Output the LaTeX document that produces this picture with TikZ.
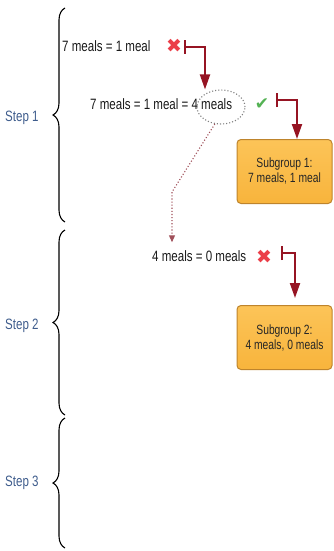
\documentclass[tikz,border=0pt]{standalone}
\usepackage{fontspec}
\setmainfont{Liberation Sans}
\newfontfamily\lbl[FakeStretch=0.77]{Liberation Sans}
\newfontfamily\sym{DejaVu Sans}
\usetikzlibrary{arrows.meta,decorations.pathreplacing,shapes.geometric,calc}

\definecolor{stepblue}{RGB}{62,92,140}
\definecolor{flowred}{RGB}{150,20,35}
\definecolor{crossred}{RGB}{235,62,72}
\definecolor{tickgreen}{RGB}{84,178,84}
\definecolor{boxfill}{RGB}{248,180,60}
\definecolor{boxtop}{RGB}{252,196,88}
\definecolor{boxedge}{RGB}{190,132,44}
\definecolor{dotred}{RGB}{160,80,90}

\tikzset{
  steplabel/.style={font=\lbl\fontsize{15}{17}\selectfont, text=stepblue, anchor=west, inner sep=0pt},
  eqn/.style={font=\lbl\fontsize{15}{17}\selectfont, text=black!90, inner sep=0pt, anchor=west},
  stepbrace/.style={decorate, decoration={brace, amplitude=12pt}, line width=1.1pt},
  cross/.style={font=\sym\fontsize{19}{19}\selectfont, text=crossred, inner sep=0pt},
  tick/.style={font=\sym\fontsize{17}{17}\selectfont, text=tickgreen, inner sep=0pt},
  elbow/.style={draw=flowred, line width=2pt,
    {Bar[width=14pt]}-{Triangle[width=10pt,length=15pt]}},
  subgroup/.style={draw=boxedge, line width=1pt, top color=boxtop, bottom color=boxfill,
    rounded corners=4pt, minimum width=95pt, minimum height=64pt, align=center,
    font=\lbl\fontsize{13.4}{15}\selectfont, text=black!85},
  hint/.style={draw=dotred, dotted, line width=1.1pt, -{Triangle[width=6pt,length=7pt]}},
  focus/.style={ellipse, draw=gray, dotted, line width=1.1pt,
    minimum width=48pt, minimum height=34pt, inner sep=0pt},
}

\begin{document}
\begin{tikzpicture}[x=1pt,y=-1pt]
  \useasboundingbox (0,0) rectangle (334,551);

  % step braces and their labels
  \draw[stepbrace] (65,222) -- (65,8);
  \draw[stepbrace] (65,415) -- (65,230);
  \draw[stepbrace] (65,548) -- (65,418);
  \node[steplabel] (s1) at (5,118) {Step 1};
  \node[steplabel] (s2) at (5,326) {Step 2};
  \node[steplabel] (s3) at (5,483) {Step 3};

  % step 1
  \node[eqn] (eq1) at (62,46) {7 meals = 1 meal};
  \node[cross] (x1) at (174,46) {✖};
  \coordinate (bar1) at (184,47);
  \node[eqn] (eq2) at (90,104) {7 meals = 1 meal = 4 meals};
  \node[focus] (ring) at (221,107) {};
  \node[tick] (ok) at (262,104) {✔};
  \coordinate (bar2) at (276,100);
  \node[subgroup] (sg1) at (284.5,171.5) {Subgroup 1:\\7 meals, 1 meal};

  % step 2
  \node[eqn] (eq3) at (152,256) {4 meals = 0 meals};
  \node[cross] (x2) at (264,257) {✖};
  \coordinate (bar3) at (281,253);
  \node[subgroup] (sg2) at (284.5,337.5) {Subgroup 2:\\4 meals, 0 meals};

  % connectors
  \draw[elbow] (bar1) -| ([xshift=-16pt]ring.north);
  \draw[elbow] (bar2) -| ([xshift=12.5pt]sg1.north);
  \draw[elbow] (bar3) -| ([xshift=10.5pt,yshift=7pt]sg2.north);
  \coordinate (drop) at (172,192);
  \draw[hint, shorten >=8pt] (ring.250) -- (drop) -- (drop |- eq3.north);
\end{tikzpicture}
\end{document}
